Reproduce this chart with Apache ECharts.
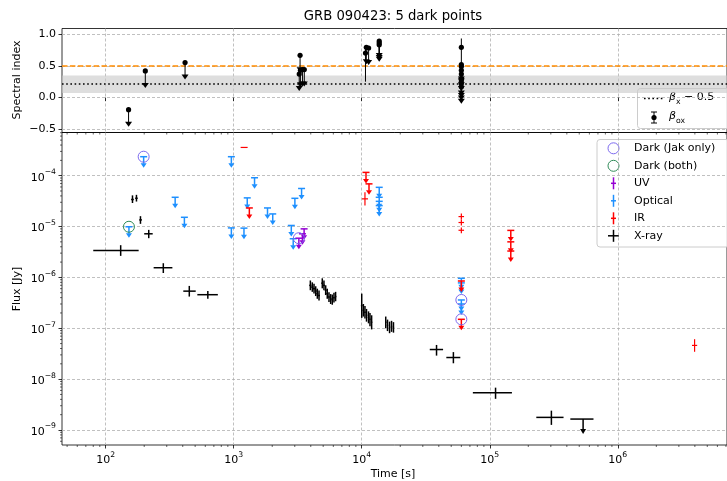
<!DOCTYPE html>
<html><head><meta charset="utf-8">
<script src="https://cdn.jsdelivr.net/npm/echarts@6.0.0/dist/echarts.min.js"></script>
<style>html,body{margin:0;padding:0;background:#fff;}#chart{width:727px;height:481px;}</style>
</head><body><div id="chart"></div>
<script>
// ---------------- text ----------------
const TITLE = 'GRB 090423: 5 dark points';
const X_LABEL = 'Time [s]';
const Y_LABEL_TOP = 'Spectral index';
const Y_LABEL_BOTTOM = 'Flux [Jy]';
const LEGEND_LABELS = ['Dark (Jak only)', 'Dark (both)', 'UV', 'Optical', 'IR', 'X-ray'];

// ---------------- axes ----------------
const TIME_TICKS = [1e2, 1e3, 1e4, 1e5, 1e6];
const FLUX_TICKS = [1e-9, 1e-8, 1e-7, 1e-6, 1e-5, 1e-4];
const INDEX_TICKS = [-0.5, 0, 0.5, 1.0];
const TIME_RANGE = [45.6, 7.13e6];
const FLUX_RANGE = [5.07e-10, 7.06e-4];
const INDEX_RANGE = [-0.55, 1.087];

// ---------------- top panel data ----------------
const BETA_X_MINUS_HALF = 0.21;
const BETA_X_BAND = [0.073, 0.348];
const REF_INDEX = 0.5;
// beta_ox upper limits: [time, index]
const betaOxUL = [
  [151, -0.19], [204, 0.42], [417, 0.55],
  [3300, 0.665], [3250, 0.37], [3320, 0.43], [3450, 0.44], [3560, 0.44],
  [10860, 0.79], [11320, 0.78],
  [13700, 0.89], [13700, 0.86], [13700, 0.83],
  [60000, 0.52], [60000, 0.49], [60000, 0.43], [60000, 0.37], [60000, 0.30], [60000, 0.26], [60000, 0.22], [60000, 0.17]
];
// beta_ox measurements: [time, index, low, high]
const betaOxPts = [[10700, 0.70, 0.25, 0.78], [60000, 0.79, 0.50, 0.93]];

// ---------------- bottom panel data ----------------
// [time, timeLow, timeHigh, flux, fluxLow, fluxHigh]
const xrayPts = [
  [131, 80, 181, 3.38e-6, 2.65e-6, 4.3e-6],
  [162, 158, 166, 3.4e-5, 2.9e-5, 4.1e-5],
  [174, 170, 178, 3.6e-5, 3.1e-5, 4.2e-5],
  [187, 183, 192, 1.35e-5, 1.13e-5, 1.6e-5],
  [217, 200, 233, 7.2e-6, 5.9e-6, 8.6e-6],
  [282, 237, 332, 1.55e-6, 1.22e-6, 1.9e-6],
  [450, 404, 505, 5.37e-7, 4.2e-7, 6.8e-7],
  [628, 520, 752, 4.57e-7, 3.8e-7, 5.4e-7],
  [3970, 3890, 4050, 6.97e-7, 5.6e-7, 8.7e-7],
  [4110, 4030, 4190, 6.45e-7, 5.2e-7, 8.0e-7],
  [4240, 4160, 4320, 6.0e-7, 4.8e-7, 7.5e-7],
  [4370, 4290, 4450, 5.4e-7, 4.3e-7, 6.7e-7],
  [4500, 4420, 4580, 4.8e-7, 3.8e-7, 6.0e-7],
  [4640, 4560, 4720, 4.4e-7, 3.5e-7, 5.5e-7],
  [4920, 4830, 5010, 7.7e-7, 6.1e-7, 9.6e-7],
  [5070, 4980, 5160, 6.97e-7, 5.6e-7, 8.7e-7],
  [5230, 5140, 5320, 5.6e-7, 4.5e-7, 7.0e-7],
  [5380, 5290, 5470, 4.8e-7, 3.8e-7, 6.0e-7],
  [5550, 5460, 5640, 4.1e-7, 3.3e-7, 5.1e-7],
  [5720, 5630, 5810, 3.8e-7, 3.0e-7, 4.7e-7],
  [5890, 5800, 5980, 3.65e-7, 2.9e-7, 4.6e-7],
  [6070, 5980, 6160, 4.0e-7, 3.2e-7, 5.0e-7],
  [6250, 6160, 6340, 4.2e-7, 3.4e-7, 5.2e-7],
  [10000, 9850, 10150, 2.8e-7, 1.6e-7, 4.8e-7],
  [10300, 10150, 10450, 2.25e-7, 1.7e-7, 3.0e-7],
  [10600, 10450, 10750, 2.06e-7, 1.55e-7, 2.75e-7],
  [10900, 10750, 11050, 1.8e-7, 1.35e-7, 2.4e-7],
  [11300, 11150, 11450, 1.64e-7, 1.25e-7, 2.15e-7],
  [11600, 11450, 11750, 1.5e-7, 1.1e-7, 2.0e-7],
  [11950, 11800, 12100, 1.31e-7, 0.95e-7, 1.8e-7],
  [15400, 15200, 15600, 1.31e-7, 1.0e-7, 1.7e-7],
  [15900, 15700, 16100, 1.14e-7, 0.88e-7, 1.48e-7],
  [16500, 16300, 16700, 1.04e-7, 0.8e-7, 1.35e-7],
  [17100, 16900, 17300, 1.09e-7, 0.85e-7, 1.4e-7],
  [17700, 17500, 17900, 1.04e-7, 0.82e-7, 1.32e-7],
  [38400, 34000, 43200, 3.82e-8, 2.9e-8, 4.7e-8],
  [52000, 45800, 58900, 2.66e-8, 2.05e-8, 3.4e-8],
  [111000, 73800, 149000, 5.4e-9, 4.1e-9, 6.8e-9],
  [303000, 231000, 377000, 1.77e-9, 1.26e-9, 2.4e-9]
];
// [time, timeLow, timeHigh, flux upper limit]
const xrayUL = [[536000, 426000, 646000, 1.64e-9]];
// [time, flux upper limit]
const opticalUL = [
  [198, 2.36e-4], [152, 9.9e-6], [349, 3.76e-5], [412, 1.52e-5],
  [959, 2.36e-4], [1455, 9.1e-5], [1276, 3.66e-5], [959, 9.4e-6], [1203, 9.3e-6],
  [1837, 2.32e-5], [2018, 1.77e-5], [3006, 3.59e-5], [3390, 5.6e-5], [2818, 1.05e-5], [2917, 5.76e-6],
  [13700, 5.9e-5], [13700, 3.76e-5], [13700, 3.13e-5], [13700, 2.58e-5],
  [60000, 9.6e-7], [60000, 7.8e-7], [60000, 3.6e-7], [60000, 3.0e-7]
];
const irUL = [
  [1325, 2.32e-5], [10800, 1.16e-4], [11400, 6.9e-5],
  [146000, 8.4e-6], [146000, 5.0e-6], [146000, 3.3e-6],
  [60000, 8.5e-7], [60000, 1.5e-7]
];
const uvUL = [[3548, 9.0e-6], [3443, 7.2e-6], [3228, 5.9e-6]];
// [time, timeLow, timeHigh, flux, fluxLow, fluxHigh]
const irPts = [
  [1205, 1133, 1285, 3.59e-4, 3.59e-4, 3.59e-4],
  [10600, 10050, 11200, 3.5e-5, 2.6e-5, 4.7e-5],
  [60000, 57000, 63000, 1.57e-5, 1.37e-5, 1.8e-5],
  [60000, 57000, 63000, 1.2e-5, 1.05e-5, 1.37e-5],
  [60000, 57000, 63000, 8.45e-6, 7.4e-6, 9.6e-6],
  [3.98e6, 3.8e6, 4.17e6, 4.6e-8, 3.45e-8, 6.1e-8]
];
// [time, flux]
const darkJak = [[198, 2.36e-4], [3228, 5.9e-6], [60000, 3.6e-7], [60000, 1.5e-7]];
const darkBoth = [[152, 9.9e-6]];

// ---------------- style ----------------
const FONT = 'DejaVu Sans';
const C = {jak: '#7B68EE', both: '#2E8B57', uv: '#9400D3', opt: '#1E90FF', ir: '#FF0000', xray: '#000000', orange: '#FF8C00'};
const GRID_LINE = {color: '#b0b0b0', width: 0.8, type: [3, 2]};

function minorValues(range) {
  const out = [];
  const e0 = Math.floor(Math.log10(range[0])), e1 = Math.ceil(Math.log10(range[1]));
  for (let e = e0; e <= e1; e++) for (let m = 2; m <= 9; m++) {
    const v = m * Math.pow(10, e);
    if (v > range[0] && v < range[1]) out.push(v);
  }
  return out;
}
function supLabel(v) {
  const e = Math.round(Math.log10(v));
  return '{b|10}{s|' + (e < 0 ? '\u2212' + (-e) : e) + '}';
}
const SUP_RICH = {
  b: {fontSize: 11, fontFamily: FONT, color: '#000', lineHeight: 15, verticalAlign: 'bottom'},
  s: {fontSize: 7.7, fontFamily: FONT, color: '#000', lineHeight: 8, verticalAlign: 'top'}
};

function ulRender(color, o) {
  return function (params, api) {
    const p = api.coord([api.value(0), api.value(o.yDim || 1)]);
    const ch = [];
    const L = o.len, hw = o.headW / 2, hh = o.headH;
    if (o.xerr) {
      const a = api.coord([api.value(1), api.value(3)]), b = api.coord([api.value(2), api.value(3)]);
      ch.push({type: 'line', shape: {x1: a[0], y1: a[1], x2: b[0], y2: b[1]}, style: {stroke: color, lineWidth: o.lw}});
    }
    if (o.cap) ch.push({type: 'line', shape: {x1: p[0] - o.cap / 2, y1: p[1], x2: p[0] + o.cap / 2, y2: p[1]}, style: {stroke: color, lineWidth: o.lw}});
    ch.push({type: 'line', shape: {x1: p[0], y1: p[1], x2: p[0], y2: p[1] + L - hh + 0.5}, style: {stroke: color, lineWidth: o.lw}});
    ch.push({type: 'polygon', shape: {points: [[p[0] - hw, p[1] + L - hh], [p[0] + hw, p[1] + L - hh], [p[0], p[1] + L]]}, style: {fill: color}});
    if (o.dot) ch.push({type: 'circle', shape: {cx: p[0], cy: p[1], r: o.dot}, style: {fill: color}});
    return {type: 'group', children: ch};
  };
}
function errRender(color, lw) {
  return function (params, api) {
    const f = api.value(3), t = api.value(0);
    const a = api.coord([api.value(1), f]), b = api.coord([api.value(2), f]);
    const c = api.coord([t, api.value(4)]), d = api.coord([t, api.value(5)]);
    return {type: 'group', children: [
      {type: 'line', shape: {x1: a[0], y1: a[1], x2: b[0], y2: b[1]}, style: {stroke: color, lineWidth: lw}},
      {type: 'line', shape: {x1: c[0], y1: c[1], x2: d[0], y2: d[1]}, style: {stroke: color, lineWidth: lw}}
    ]};
  };
}
function betaPtRender(params, api) {
  const t = api.value(0);
  const p = api.coord([t, api.value(1)]), lo = api.coord([t, api.value(2)]), hi = api.coord([t, api.value(3)]);
  return {type: 'group', children: [
    {type: 'line', shape: {x1: lo[0], y1: lo[1], x2: hi[0], y2: hi[1]}, style: {stroke: '#000', lineWidth: 1}},
    {type: 'circle', shape: {cx: p[0], cy: p[1], r: 2.6}, style: {fill: '#000'}}
  ]};
}
function circleRender(color) {
  return function (params, api) {
    const p = api.coord([api.value(0), api.value(1)]);
    return {type: 'circle', shape: {cx: p[0], cy: p[1], r: 5.5}, style: {fill: 'none', stroke: color, lineWidth: 1}};
  };
}
// minor ticks (decoration drawn through the axis scales)
function xMinorRender(params, api) {
  const cs = params.coordSys;
  const x = api.coord([api.value(0), FLUX_RANGE[1]])[0];
  return {type: 'group', children: [
    {type: 'line', shape: {x1: x, y1: cs.y + cs.height, x2: x, y2: cs.y + cs.height + 2}, style: {stroke: '#000', lineWidth: 0.6}},
    {type: 'line', shape: {x1: x, y1: cs.y, x2: x, y2: cs.y + 2}, style: {stroke: '#000', lineWidth: 0.6}}
  ]};
}
function yMinorRender(params, api) {
  const cs = params.coordSys;
  const y = api.coord([TIME_RANGE[1], api.value(1)])[1];
  return {type: 'line', shape: {x1: cs.x - 2, y1: y, x2: cs.x, y2: y}, style: {stroke: '#000', lineWidth: 0.6}};
}

const chart = echarts.init(document.getElementById('chart'), null, {renderer: 'canvas'});

const gridStyle = {show: true, borderColor: '#000', borderWidth: 0.8, backgroundColor: 'transparent'};
const option = {
  animation: false,
  textStyle: {fontFamily: FONT},
  grid: [
    Object.assign({left: 62, right: -5, top: 28.5, height: 104}, gridStyle),
    Object.assign({left: 62, right: -5, top: 132.5, height: 312.5}, gridStyle)
  ],
  xAxis: [
    {type: 'log', gridIndex: 0, min: TIME_RANGE[0], max: TIME_RANGE[1],
     axisLine: {show: false}, axisLabel: {show: false, customValues: TIME_TICKS},
     axisTick: {show: true, length: 3.5, customValues: TIME_TICKS, lineStyle: {color: '#000', width: 0.8}},
     splitLine: {show: true, lineStyle: GRID_LINE}},
    {type: 'log', gridIndex: 1, min: TIME_RANGE[0], max: TIME_RANGE[1],
     axisLine: {show: false},
     axisTick: {show: true, length: 3.5, customValues: TIME_TICKS, lineStyle: {color: '#000', width: 0.8}},
     axisLabel: {show: true, customValues: TIME_TICKS, margin: 6, formatter: supLabel, rich: SUP_RICH},
     splitLine: {show: true, lineStyle: GRID_LINE}}
  ],
  yAxis: [
    {type: 'value', gridIndex: 0, min: INDEX_RANGE[0], max: INDEX_RANGE[1],
     axisLine: {show: false},
     axisTick: {show: true, length: 3.5, customValues: INDEX_TICKS, lineStyle: {color: '#000', width: 0.8}},
     axisLabel: {show: true, customValues: INDEX_TICKS, margin: 6, fontSize: 11, color: '#000', fontFamily: FONT,
       formatter: v => (v < 0 ? '\u2212' : '') + Math.abs(v).toFixed(1)},
     splitLine: {show: true, lineStyle: GRID_LINE}},
    {type: 'log', gridIndex: 1, min: FLUX_RANGE[0], max: FLUX_RANGE[1],
     axisLine: {show: false},
     axisTick: {show: true, length: 3.5, customValues: FLUX_TICKS, lineStyle: {color: '#000', width: 0.8}},
     axisLabel: {show: true, customValues: FLUX_TICKS, margin: 6, formatter: supLabel, rich: SUP_RICH},
     splitLine: {show: true, lineStyle: GRID_LINE}}
  ],
  series: [
    {type: 'line', xAxisIndex: 0, yAxisIndex: 0, data: [], silent: true,
     markArea: {silent: true, itemStyle: {color: 'rgba(200,200,200,0.6)'}, data: [[{yAxis: BETA_X_BAND[0]}, {yAxis: BETA_X_BAND[1]}]]},
     markLine: {silent: true, symbol: ['none', 'none'], label: {show: false},
       data: [
         {yAxis: BETA_X_MINUS_HALF, lineStyle: {color: '#000', width: 1.6, type: [1.6, 2.6]}},
         {yAxis: REF_INDEX, lineStyle: {color: C.orange, width: 1.6, type: [5.5, 2.4]}}
       ]}},
    {type: 'custom', xAxisIndex: 0, yAxisIndex: 0, data: betaOxUL, z: 5,
     renderItem: ulRender('#000', {len: 17, headW: 7, headH: 5, lw: 1, dot: 2.6})},
    {type: 'custom', xAxisIndex: 0, yAxisIndex: 0, data: betaOxPts, z: 5, renderItem: betaPtRender},
    // bottom panel
    {type: 'custom', xAxisIndex: 1, yAxisIndex: 1, data: minorValues(TIME_RANGE).map(v => [v, FLUX_RANGE[1]]), silent: true, renderItem: xMinorRender},
    {type: 'custom', xAxisIndex: 1, yAxisIndex: 1, data: minorValues(FLUX_RANGE).map(v => [TIME_RANGE[1], v]), silent: true, renderItem: yMinorRender},
    {type: 'custom', xAxisIndex: 1, yAxisIndex: 1, data: xrayPts, z: 5, renderItem: errRender(C.xray, 1.5)},
    {type: 'custom', xAxisIndex: 1, yAxisIndex: 1, data: xrayUL, z: 5,
     renderItem: ulRender(C.xray, {len: 15, headW: 6, headH: 5, lw: 1.5, xerr: true, yDim: 3})},
    {type: 'custom', xAxisIndex: 1, yAxisIndex: 1, data: opticalUL, z: 5,
     renderItem: ulRender(C.opt, {len: 11, headW: 6, headH: 4.5, lw: 1.5, cap: 7})},
    {type: 'custom', xAxisIndex: 1, yAxisIndex: 1, data: irUL, z: 5,
     renderItem: ulRender(C.ir, {len: 11, headW: 6, headH: 4.5, lw: 1.5, cap: 7})},
    {type: 'custom', xAxisIndex: 1, yAxisIndex: 1, data: irPts, z: 5, renderItem: errRender(C.ir, 1.2)},
    {type: 'custom', xAxisIndex: 1, yAxisIndex: 1, data: uvUL, z: 5,
     renderItem: ulRender(C.uv, {len: 11, headW: 6, headH: 4.5, lw: 1.5, cap: 7})},
    {type: 'custom', xAxisIndex: 1, yAxisIndex: 1, data: darkJak, z: 6, renderItem: circleRender(C.jak)},
    {type: 'custom', xAxisIndex: 1, yAxisIndex: 1, data: darkBoth, z: 6, renderItem: circleRender(C.both)}
  ],
  graphic: buildGraphics()
};

function crossIcon(x, y, color, hw, vh) {
  return [
    {type: 'line', shape: {x1: x - hw, y1: y, x2: x + hw, y2: y}, style: {stroke: color, lineWidth: 1.5}},
    {type: 'line', shape: {x1: x, y1: y - vh, x2: x, y2: y + vh}, style: {stroke: color, lineWidth: 1.5}}
  ];
}
function buildGraphics() {
  const g = [];
  g.push({type: 'text', x: 393, y: 17, style: {text: TITLE, fontSize: 13.2, fontFamily: FONT, fill: '#000', align: 'center', verticalAlign: 'middle'}});
  g.push({type: 'text', x: 393, y: 474, style: {text: X_LABEL, fontSize: 11, fontFamily: FONT, fill: '#000', align: 'center', verticalAlign: 'middle'}});
  g.push({type: 'text', x: 17, y: 80, rotation: Math.PI / 2, style: {text: Y_LABEL_TOP, fontSize: 11, fontFamily: FONT, fill: '#000', align: 'center', verticalAlign: 'middle'}});
  g.push({type: 'text', x: 17, y: 289, rotation: Math.PI / 2, style: {text: Y_LABEL_BOTTOM, fontSize: 11, fontFamily: FONT, fill: '#000', align: 'center', verticalAlign: 'middle'}});

  // top legend
  const tl = [];
  tl.push({type: 'rect', shape: {x: 637.5, y: 88.5, width: 95, height: 40, r: 3}, style: {fill: 'rgba(255,255,255,0.8)', stroke: '#cccccc', lineWidth: 1}});
  tl.push({type: 'line', shape: {x1: 644, y1: 98.5, x2: 664, y2: 98.5}, style: {stroke: '#000', lineWidth: 1.6, lineDash: [1.6, 2.6]}});
  const richB = {
    i: {fontSize: 11, fontStyle: 'italic', fontFamily: FONT, fill: '#000', lineHeight: 14, verticalAlign: 'top'},
    sub: {fontSize: 7.7, fontFamily: FONT, fill: '#000', lineHeight: 8, verticalAlign: 'bottom'},
    n: {fontSize: 11, fontFamily: FONT, fill: '#000', lineHeight: 14, verticalAlign: 'top'}
  };
  tl.push({type: 'text', x: 669, y: 99, style: {text: '{i|\u03b2}{sub|x}{n| \u2212 0.5}', rich: richB, verticalAlign: 'middle', align: 'left'}});
  tl.push({type: 'line', shape: {x1: 654, y1: 112, x2: 654, y2: 123}, style: {stroke: '#000', lineWidth: 1}});
  tl.push({type: 'line', shape: {x1: 651, y1: 112, x2: 657, y2: 112}, style: {stroke: '#000', lineWidth: 1}});
  tl.push({type: 'line', shape: {x1: 651, y1: 123, x2: 657, y2: 123}, style: {stroke: '#000', lineWidth: 1}});
  tl.push({type: 'circle', shape: {cx: 654, cy: 117.5, r: 2.6}, style: {fill: '#000'}});
  tl.push({type: 'text', x: 669, y: 118, style: {text: '{i|\u03b2}{sub|ox}', rich: richB, verticalAlign: 'middle', align: 'left'}});
  g.push({type: 'group', z: 100, children: tl});

  // bottom legend
  const bl = [];
  const rows = [148.3, 165.8, 183.3, 200.8, 218.3, 235.8];
  bl.push({type: 'rect', shape: {x: 597, y: 139.5, width: 132, height: 107.5, r: 3}, style: {fill: 'rgba(255,255,255,0.8)', stroke: '#cccccc', lineWidth: 1}});
  bl.push({type: 'circle', shape: {cx: 613.5, cy: rows[0], r: 5.5}, style: {fill: 'none', stroke: C.jak, lineWidth: 1}});
  bl.push({type: 'circle', shape: {cx: 613.5, cy: rows[1], r: 5.5}, style: {fill: 'none', stroke: C.both, lineWidth: 1}});
  bl.push(...crossIcon(613.5, rows[2], C.uv, 2.5, 6));
  bl.push(...crossIcon(613.5, rows[3], C.opt, 2.5, 6));
  bl.push(...crossIcon(613.5, rows[4], C.ir, 2.5, 6));
  bl.push(...crossIcon(613.5, rows[5], C.xray, 5.5, 6));
  LEGEND_LABELS.forEach((t, i) => bl.push({type: 'text', x: 634, y: rows[i], style: {text: t, fontSize: 11, fontFamily: FONT, fill: '#000', align: 'left', verticalAlign: 'middle'}}));
  g.push({type: 'group', z: 100, children: bl});
  return g;
}

chart.setOption(option);
</script>
</body></html>
